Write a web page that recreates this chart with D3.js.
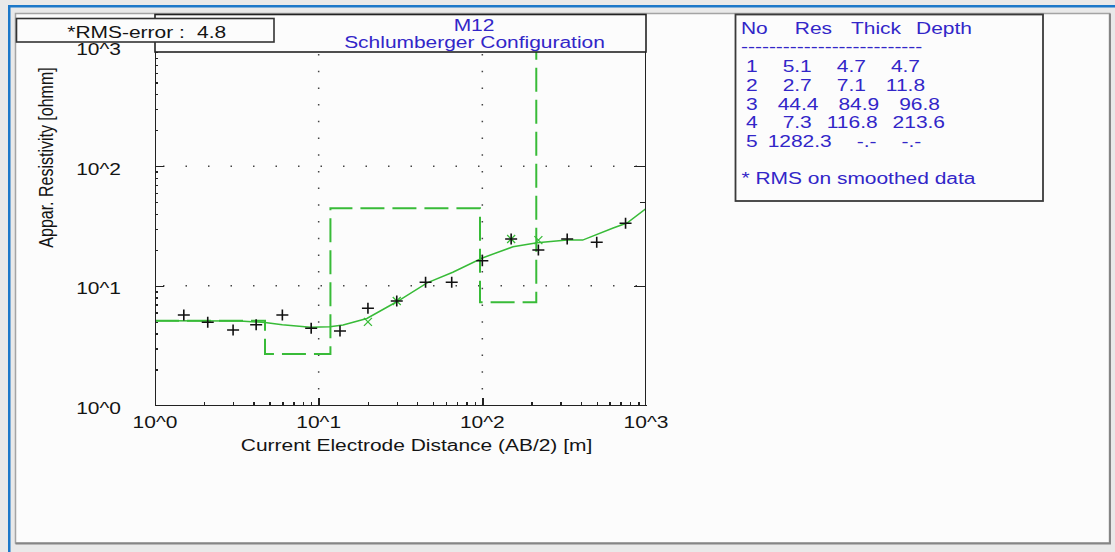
<!DOCTYPE html>
<html lang="en">
<head>
<meta charset="UTF-8">
<title>M12 Schlumberger sounding</title>
<script src="https://cdn.jsdelivr.net/npm/d3@7"></script>
<style>
    html, body { margin: 0; padding: 0; background: #e9e9e9; }
    text { font-family: "Liberation Sans", Arial, sans-serif; }
    .axis path, .axis line { fill: none; stroke: #222; shape-rendering: crispEdges; }
    .grid { stroke: #444; stroke-width: 1.5; fill: none; }
</style>
</head>
<body>
<svg id="chart" width="1115" height="552"></svg>
<script>
// measured apparent resistivity (black +)
var abMeasured  = [1.5, 2.1, 3, 4.15, 6, 9, 13.5, 20, 30, 45, 65, 100, 150, 220, 330, 500, 750];
var rhoMeasured = [5.7, 4.96, 4.27, 4.73, 5.7, 4.42, 4.19, 6.49, 7.46, 10.7, 10.7, 16.2, 24.6, 19.9, 24.6, 23.1, 33.3];

// smoothed points (green x)
var abSmoothed  = [20, 30, 150, 220];
var rhoSmoothed = [5.0, 7.46, 24.6, 24.1];

// model response curve (solid green)
var abModel  = [1, 3.3, 4.7, 6, 8.9, 11.7, 14.1, 19.7, 27.3, 30, 46, 66, 100, 154, 216, 330, 410, 630, 765, 1000];
var rhoModel = [5.1, 5.08, 4.94, 4.73, 4.5, 4.55, 4.7, 5.34, 6.85, 7.36, 10.6, 13.0, 17.1, 21.2, 22.9, 24.1, 24.1, 30.4, 33.5, 44.2];

// layered model
var layerRes   = [5.1, 2.7, 44.4, 7.3, 1282.3];
var layerThick = [4.7, 7.1, 84.9, 116.8];
var layerDepth = [4.7, 11.8, 96.8, 213.6];

var decades    = [1, 10, 100, 1000];
var decadeText = ["10^0", "10^1", "10^2", "10^3"];
var titleLines = ["M12", "Schlumberger Configuration"];
var tableHead  = ["No", "Res", "Thick", "Depth"];
var rmsError   = 4.8;
var xTitle = "Current Electrode Distance (AB/2) [m]";
var yTitle = "Appar. Resistivity [ohmm]";
var footNote = "* RMS on smoothed data";

var SX = 1.31;          // the screenshot is stretched horizontally
var FS = 16;
var BLUE = "#3226c8", INK = "#141414", GREEN = "#38bb38";

var svg = d3.select("#chart");

function label(parent, px, py, str, anchor, color) {
    return parent.append("g")
        .attr("transform", "translate(" + px + "," + py + ") scale(" + SX + ",1)")
        .append("text")
        .attr("text-anchor", anchor || "start")
        .attr("fill", color || INK)
        .attr("font-size", FS)
        .text(str);
}

// window frame
svg.append("rect").attr("width", 1115).attr("height", 552).attr("fill", "#e9e9e9");
svg.append("rect").attr("x", 8).attr("y", 5).attr("width", 1107).attr("height", 2.5).attr("fill", "#1c78c9");
svg.append("rect").attr("x", 8).attr("y", 5).attr("width", 2.5).attr("height", 547).attr("fill", "#1c78c9");
svg.append("rect").attr("x", 15.5).attr("y", 13.5).attr("width", 1094).attr("height", 529.5)
    .attr("fill", "#fcfcfc").attr("stroke", "#a4a4a4").attr("stroke-width", 1.5);
svg.append("path").attr("d", "M15.5,543.5H1110V13.5").attr("fill", "none").attr("stroke", "#858585").attr("stroke-width", 2);

var x = d3.scaleLog().domain([1, 1000]).range([155, 646]);
var y = d3.scaleLog().domain([1, 1000]).range([405.5, 46.5]);

var minor = [];
[1, 10, 100].forEach(function(d) { for (var m = 2; m < 10; m++) minor.push(m * d); });

// dotted grid
[10, 100].forEach(function(v) {
    svg.append("line").attr("class", "grid")
        .attr("x1", x(1)).attr("x2", x(1000)).attr("y1", y(v)).attr("y2", y(v))
        .attr("stroke-dasharray", "1.5,21").attr("stroke-dashoffset", -8);
    svg.append("line").attr("class", "grid")
        .attr("x1", x(v)).attr("x2", x(v)).attr("y1", 52).attr("y2", y(1))
        .attr("stroke-dasharray", "1.5,15.2").attr("stroke-dashoffset", -2);
});

svg.append("clipPath").attr("id", "plotClip").append("rect")
    .attr("x", x(1)).attr("y", y(1000)).attr("width", x(1000) - x(1)).attr("height", y(1) - y(1000));
var plot = svg.append("g").attr("clip-path", "url(#plotClip)");

// layered model (dashed steps)
var steps = [[1, layerRes[0]]];
layerDepth.forEach(function(d, i) { steps.push([d, layerRes[i]]); steps.push([d, layerRes[i + 1]]); });
var line = d3.line().x(function(d) { return x(d[0]); }).y(function(d) { return y(d[1]); });
plot.append("path").attr("d", line(steps))
    .attr("fill", "none").attr("stroke", GREEN).attr("stroke-width", 2).attr("stroke-dasharray", "24,8");

// model curve
plot.append("path").attr("d", line(d3.zip(abModel, rhoModel)))
    .attr("fill", "none").attr("stroke", GREEN).attr("stroke-width", 1.5);

// smoothed points
plot.selectAll(".sm").data(d3.zip(abSmoothed, rhoSmoothed)).enter().append("path")
    .attr("d", function(d) {
        var px = x(d[0]), py = y(d[1]);
        return "M" + (px - 4) + "," + (py - 4) + "L" + (px + 4) + "," + (py + 4) +
               "M" + (px - 4) + "," + (py + 4) + "L" + (px + 4) + "," + (py - 4);
    })
    .attr("stroke", GREEN).attr("stroke-width", 1.3).attr("fill", "none");

// measured points
plot.selectAll(".ms").data(d3.zip(abMeasured, rhoMeasured)).enter().append("path")
    .attr("d", function(d) {
        var px = x(d[0]), py = y(d[1]);
        return "M" + (px - 6) + "," + py + "h12M" + px + "," + (py - 5.5) + "v11";
    })
    .attr("stroke", "#111").attr("stroke-width", 1.6).attr("fill", "none");

// axes
var gl = svg.append("g").attr("class", "axis").attr("transform", "translate(155,0)");
gl.call(d3.axisLeft(y).tickValues(minor).tickSize(-3).tickSizeOuter(0).tickFormat(""));
gl.select(".domain").attr("stroke-width", 1.8);
svg.append("g").attr("class", "axis").attr("transform", "translate(155,0)")
    .call(d3.axisLeft(y).tickValues([10, 100]).tickSize(-9).tickFormat(""))
    .call(function(g) { g.select(".domain").remove(); });

var gb = svg.append("g").attr("class", "axis").attr("transform", "translate(0,405)");
gb.call(d3.axisBottom(x).tickValues(minor).tickSize(-3).tickSizeOuter(0).tickFormat(""));
gb.select(".domain").attr("stroke-width", 1.8);
svg.append("g").attr("class", "axis").attr("transform", "translate(0,405)")
    .call(d3.axisBottom(x).tickValues([10, 100]).tickSize(-7).tickFormat(""))
    .call(function(g) { g.select(".domain").remove(); });

var gr = svg.append("g").attr("class", "axis").attr("transform", "translate(645,0)");
gr.call(d3.axisRight(y).tickValues([10, 100]).tickSize(-11).tickSizeOuter(0).tickFormat(""));
gr.select(".domain").attr("stroke-width", 1.8);
svg.append("g").attr("class", "axis").attr("transform", "translate(645,0)")
    .call(d3.axisRight(y).tickValues([50]).tickSize(-5).tickFormat(""))
    .call(function(g) { g.select(".domain").remove(); });

svg.selectAll(".axis .tick line").attr("stroke-width", 1.4);

// tick labels
decades.forEach(function(v, i) {
    label(svg, 121, y(v) + 8.5, decadeText[i], "end");
    label(svg, x(v), 428, decadeText[i], "middle");
});

label(svg, 416.5, 451, xTitle, "middle");
svg.append("g").attr("transform", "translate(53,157.5) scale(" + SX + ",1) rotate(-90)")
    .append("text").attr("text-anchor", "middle").attr("fill", INK).attr("font-size", FS).text(yTitle);

// title box
svg.append("rect").attr("x", 155).attr("y", 14.5).attr("width", 491).attr("height", 37.5)
    .attr("fill", "#fcfcfc").attr("stroke", "#222").attr("stroke-width", 1.6);
label(svg, 474, 30.5, titleLines[0], "middle", BLUE);
label(svg, 474.5, 48, titleLines[1], "middle", BLUE);

// RMS box
svg.append("rect").attr("x", 16.5).attr("y", 18.5).attr("width", 257.5).attr("height", 23.5)
    .attr("fill", "#fcfcfc").attr("stroke", "#333").attr("stroke-width", 1.6);
label(svg, 67.3, 38, "*RMS-error :");
label(svg, 197, 38, rmsError.toFixed(1));

// layer table
svg.append("rect").attr("x", 735.5).attr("y", 14.5).attr("width", 307.5).attr("height", 186.5)
    .attr("fill", "#fcfcfc").attr("stroke", "#3a3a3a").attr("stroke-width", 1.8);

var SPACE = 5;   // screen width of one pad space
function tableRow(py, cells) {
    var g = svg.append("g").attr("transform", "translate(741," + py + ") scale(" + SX + ",1)");
    var cur = 0;
    cells.forEach(function(c) {
        cur += c.pad * SPACE / SX;
        var t = g.append("text").attr("x", cur).attr("fill", BLUE).attr("font-size", FS).text(c.text);
        cur += t.node().getComputedTextLength();
    });
}
var headPad = [0, 5.4, 3.8, 3];
tableRow(34, tableHead.map(function(h, i) { return { text: h, pad: headPad[i] }; }));
label(svg, 741, 52, "--------------------------", "start", BLUE);

layerRes.forEach(function(r, i) {
    var cells = [String(i + 1), r.toFixed(1),
                 i < layerThick.length ? layerThick[i].toFixed(1) : "-.-",
                 i < layerDepth.length ? layerDepth[i].toFixed(1) : "-.-"];
    var widths = [2, 8, 8, 8];
    tableRow(72 + i * 18.8, cells.map(function(s, k) { return { text: s, pad: widths[k] - s.length }; }));
});
label(svg, 741.5, 184, footNote, "start", BLUE);
</script>
</body>
</html>
